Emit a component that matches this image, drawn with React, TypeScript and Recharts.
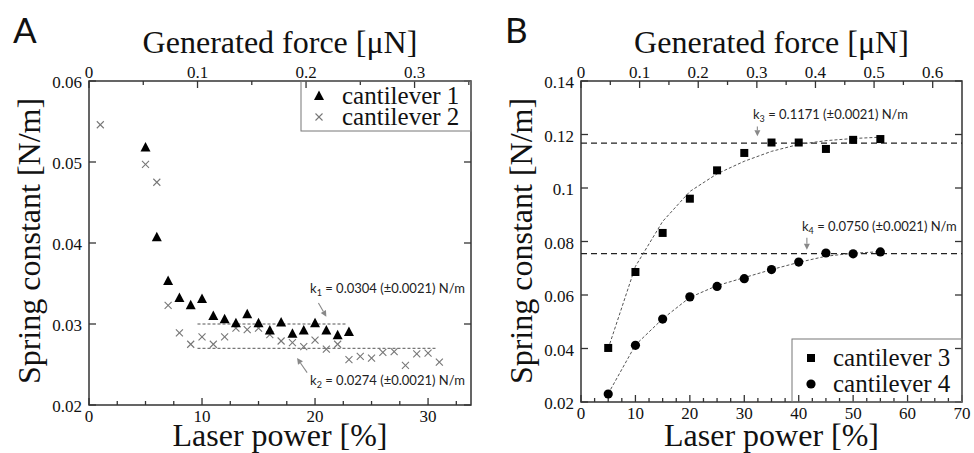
import React from 'react';
import { ComposedChart, Scatter, Line, XAxis, YAxis, ReferenceLine, ReferenceDot, ReferenceArea } from 'recharts';

const SERIF = '"Liberation Serif", "Times New Roman", serif';
const SANS = 'Lato, "Open Sans", sans-serif';

// ---------- Panel A data ----------
const laserPowerA1 = [5, 6, 7, 8, 9, 10, 11, 12, 13, 14, 15, 16, 17, 18, 19, 20, 21, 22, 23];
const springA1 = [0.0518, 0.0407, 0.0353, 0.0332, 0.0323, 0.0331, 0.031, 0.0306, 0.0301, 0.0312, 0.0301, 0.0292, 0.0302, 0.0288, 0.0292, 0.0301, 0.0292, 0.0286, 0.029];
const laserPowerA2 = [1, 5, 6, 7, 8, 9, 10, 11, 12, 13, 14, 15, 16, 17, 18, 19, 20, 21, 22, 23, 24, 25, 26, 27, 28, 29, 30, 31];
const springA2 = [0.0546, 0.0497, 0.0475, 0.0323, 0.0289, 0.0275, 0.0284, 0.0275, 0.0284, 0.0295, 0.0293, 0.0295, 0.0287, 0.0279, 0.0277, 0.0272, 0.028, 0.0269, 0.0275, 0.0256, 0.026, 0.0258, 0.0265, 0.0266, 0.0249, 0.0263, 0.0264, 0.0253];
const k1Level = 0.03;
const k1Range = [9.6, 22.8];
const k2Level = 0.027;
const k2Range = [9.6, 30.8];

// ---------- Panel B data ----------
const laserPowerB = [5, 10, 15, 20, 25, 30, 35, 40, 45, 50, 55];
const springB3 = [0.0402, 0.0686, 0.0832, 0.096, 0.1066, 0.1131, 0.117, 0.117, 0.1146, 0.118, 0.1183];
const springB4 = [0.023, 0.0412, 0.051, 0.0593, 0.0632, 0.0661, 0.0695, 0.0723, 0.0757, 0.0754, 0.0761];
const fitB3 = [0.04, 0.0707, 0.0875, 0.0987, 0.1053, 0.11, 0.1137, 0.1163, 0.1177, 0.1185, 0.119];
const fitB4 = [0.0231, 0.0413, 0.0511, 0.0591, 0.0635, 0.0665, 0.0695, 0.0722, 0.0745, 0.0756, 0.0762];
const k3Level = 0.1168;
const k4Level = 0.0755;

// ---------- Axis ranges ----------
const aLaserDomain = [0, 33.8];
const aForceDomain = [0, 0.352];
const aSpringDomain = [0.02, 0.06];
const bLaserDomain = [0, 70];
const bForceDomain = [0, 0.65];
const bSpringDomain = [0.02, 0.14];

// ---------- Ticks ----------
const aXTicks = [0, 2.5, 5, 7.5, 10, 12.5, 15, 17.5, 20, 22.5, 25, 27.5, 30, 32.5];
const aYTicks = [0.02, 0.03, 0.04, 0.05, 0.06];
const aTopTicks = [0, 0.05, 0.1, 0.15, 0.2, 0.25, 0.3, 0.35];
const bXTicks = [0, 2.5, 5, 7.5, 10, 12.5, 15, 17.5, 20, 22.5, 25, 27.5, 30, 32.5, 35, 37.5, 40, 42.5, 45, 47.5, 50, 52.5, 55, 57.5, 60, 62.5, 65, 67.5, 70];
const bYTicks = [0.02, 0.04, 0.06, 0.08, 0.1, 0.12, 0.14];
const bTopTicks = [0, 0.05, 0.1, 0.15, 0.2, 0.25, 0.3, 0.35, 0.4, 0.45, 0.5, 0.55, 0.6];

// ---------- Annotations (data coordinates) ----------
const annA = [
  { x: 19.56, y: 0.03377, sub: '1', val: '0.0304' },
  { x: 19.56, y: 0.02253, sub: '2', val: '0.0274' },
];
const arrowsA = [
  { x1: 20.3, y1: 0.0326, x2: 21.0, y2: 0.0309 },
  { x1: 19.3, y1: 0.024, x2: 18.41, y2: 0.0258 },
];
const annB = [
  { x: 31.6, y: 0.1257, sub: '3', val: '0.1171' },
  { x: 40.6, y: 0.084, sub: '4', val: '0.0750' },
];
const arrowsB = [
  { x1: 32.4, y1: 0.123, x2: 32.4, y2: 0.1193 },
  { x1: 41.5, y1: 0.0814, x2: 41.5, y2: 0.0769 },
];

const toPts = (xs: number[], ys: number[]) => xs.map((x, i) => ({ x, y: ys[i] }));
const dataA1 = toPts(laserPowerA1, springA1);
const dataA2 = toPts(laserPowerA2, springA2);
const dataB3 = toPts(laserPowerB, springB3);
const dataB4 = toPts(laserPowerB, springB4);
const dataFitB3 = toPts(laserPowerB, fitB3);
const dataFitB4 = toPts(laserPowerB, fitB4);
// invisible helpers so the secondary (top / right) axes get a series bound to them
const helperA = toPts(aForceDomain, aSpringDomain);
const helperB = toPts(bForceDomain, bSpringDomain);

const INK = '#333';
const fmt = (v: number) => String(parseFloat(v.toFixed(3)));
const isMajor = (v: number, step: number) => Math.abs(v / step - Math.round(v / step)) < 1e-6;

const tickShape = (side: string, v: number, major: boolean, showLabel: boolean) => (p: any) => {
  const x = Number(p.cx);
  const y = Number(p.cy);
  if (isNaN(x) || isNaN(y)) return <g />;
  const len = major ? 7 : 4;
  let x2 = x;
  let y2 = y;
  let lx = x;
  let ly = y;
  let anchor: 'middle' | 'end' = 'middle';
  if (side === 'bottom') {
    y2 = y - len;
    ly = y + 17;
  } else if (side === 'top') {
    y2 = y + len;
    ly = y - 3;
  } else if (side === 'left') {
    x2 = x + len;
    lx = x - 7;
    ly = y + 7;
    anchor = 'end';
  } else {
    x2 = x - len;
  }
  return (
    <g>
      <line x1={x} y1={y} x2={x2} y2={y2} stroke={INK} strokeWidth={1.3} />
      {showLabel && major ? (
        <text x={lx} y={ly} textAnchor={anchor} style={{ fontFamily: SERIF, fontSize: 17 }} fill="#111">
          {fmt(v)}
        </text>
      ) : null}
    </g>
  );
};

const Triangle = (p: any) => (
  <polygon points={`${p.cx},${p.cy - 5.5} ${p.cx - 5},${p.cy + 4} ${p.cx + 5},${p.cy + 4}`} fill="#000" />
);
const Cross = (p: any) => (
  <g stroke="#777" strokeWidth={1.1}>
    <line x1={p.cx - 3.5} y1={p.cy - 3.5} x2={p.cx + 3.5} y2={p.cy + 3.5} />
    <line x1={p.cx - 3.5} y1={p.cy + 3.5} x2={p.cx + 3.5} y2={p.cy - 3.5} />
  </g>
);
const Square = (p: any) => <rect x={p.cx - 4} y={p.cy - 4} width={8} height={8} fill="#000" />;
const Circle = (p: any) => <circle cx={p.cx} cy={p.cy} r={4.6} fill="#000" />;
const Hidden = () => <g />;

const ArrowShape = (p: any) => {
  const { x1, y1, x2, y2 } = p;
  if ([x1, y1, x2, y2].some((n) => typeof n !== 'number' || isNaN(n))) return <g />;
  const ang = Math.atan2(y2 - y1, x2 - x1);
  const L = 6;
  const W = 3;
  const bx = x2 - L * Math.cos(ang);
  const by = y2 - L * Math.sin(ang);
  const px = -Math.sin(ang) * W;
  const py = Math.cos(ang) * W;
  return (
    <g>
      <line x1={x1} y1={y1} x2={bx} y2={by} stroke="#888" strokeWidth={1.1} />
      <polygon points={`${x2},${y2} ${bx + px},${by + py} ${bx - px},${by - py}`} fill="#888" />
    </g>
  );
};

const annShape = (sub: string, val: string) => (p: any) => (
  <text x={p.cx} y={p.cy} style={{ fontFamily: SANS, fontSize: 13 }} fill="#222">
    <tspan>k</tspan>
    <tspan dy={3} style={{ fontSize: 9 }}>{sub}</tspan>
    <tspan dy={-3}>{` = ${val} (±0.0021) N/m`}</tspan>
  </text>
);

function frameAndTicks(
  pre: string,
  xDom: number[], yDom: number[],
  xTicks: number[], xStep: number,
  topTicks: number[], topStep: number,
  yTicks: number[], yStep: number,
) {
  const items: any[] = [];
  items.push(
    <ReferenceArea key={pre + 'frame'} x1={xDom[0]} x2={xDom[1]} y1={yDom[0]} y2={yDom[1]} ifOverflow="visible"
      fill="none" fillOpacity={0} stroke={INK} strokeWidth={1.5} strokeOpacity={1} />,
  );
  xTicks.forEach((v) =>
    items.push(
      <ReferenceDot key={pre + 'b' + v} x={v} y={yDom[0]} r={0} ifOverflow="visible"
        shape={tickShape('bottom', v, isMajor(v, xStep), true)} />,
    ),
  );
  topTicks.forEach((v) =>
    items.push(
      <ReferenceDot key={pre + 't' + v} xAxisId="top" yAxisId="right" x={v} y={yDom[1]} r={0} ifOverflow="visible"
        shape={tickShape('top', v, isMajor(v, topStep), true)} />,
    ),
  );
  yTicks.forEach((v) => {
    items.push(
      <ReferenceDot key={pre + 'l' + v} x={xDom[0]} y={v} r={0} ifOverflow="visible"
        shape={tickShape('left', v, isMajor(v, yStep), true)} />,
    );
    items.push(
      <ReferenceDot key={pre + 'r' + v} x={xDom[1]} y={v} r={0} ifOverflow="visible"
        shape={tickShape('right', v, isMajor(v, yStep), false)} />,
    );
  });
  return items;
}

function PanelA() {
  return (
    <ComposedChart width={487} height={453} margin={{ top: 81, right: 16, bottom: 48, left: 89 }}>
      <XAxis hide dataKey="x" type="number" domain={aLaserDomain} />
      <XAxis hide xAxisId="top" dataKey="x" type="number" orientation="top" domain={aForceDomain} />
      <YAxis hide dataKey="y" type="number" domain={aSpringDomain} />
      <YAxis hide yAxisId="right" dataKey="y" type="number" orientation="right" domain={aSpringDomain} />
      <Scatter xAxisId="top" yAxisId="right" data={helperA} dataKey="y" shape={Hidden} isAnimationActive={false} legendType="none" />
      {frameAndTicks('A', aLaserDomain, aSpringDomain, aXTicks, 10, aTopTicks, 0.1, aYTicks, 0.01)}
      <ReferenceLine segment={[{ x: k1Range[0], y: k1Level }, { x: k1Range[1], y: k1Level }]} stroke="#555" strokeWidth={1} strokeDasharray="3 2" />
      <ReferenceLine segment={[{ x: k2Range[0], y: k2Level }, { x: k2Range[1], y: k2Level }]} stroke="#555" strokeWidth={1} strokeDasharray="3 2" />
      {arrowsA.map((a, i) => (
        <ReferenceLine key={'aa' + i} segment={[{ x: a.x1, y: a.y1 }, { x: a.x2, y: a.y2 }]} shape={ArrowShape} />
      ))}
      {annA.map((a, i) => (
        <ReferenceDot key={'an' + i} x={a.x} y={a.y} r={0} shape={annShape(a.sub, a.val)} />
      ))}
      <Scatter data={dataA2} dataKey="y" shape={Cross} isAnimationActive={false} />
      <Scatter data={dataA1} dataKey="y" shape={Triangle} isAnimationActive={false} />
    </ComposedChart>
  );
}

function PanelB() {
  return (
    <ComposedChart width={487} height={453} margin={{ top: 81, right: 12, bottom: 51, left: 94 }}>
      <XAxis hide dataKey="x" type="number" domain={bLaserDomain} />
      <XAxis hide xAxisId="top" dataKey="x" type="number" orientation="top" domain={bForceDomain} />
      <YAxis hide dataKey="y" type="number" domain={bSpringDomain} />
      <YAxis hide yAxisId="right" dataKey="y" type="number" orientation="right" domain={bSpringDomain} />
      <Scatter xAxisId="top" yAxisId="right" data={helperB} dataKey="y" shape={Hidden} isAnimationActive={false} legendType="none" />
      {frameAndTicks('B', bLaserDomain, bSpringDomain, bXTicks, 10, bTopTicks, 0.1, bYTicks, 0.02)}
      <ReferenceLine y={k3Level} stroke="#222" strokeWidth={1.3} strokeDasharray="6 4" />
      <ReferenceLine y={k4Level} stroke="#222" strokeWidth={1.3} strokeDasharray="6 4" />
      {arrowsB.map((a, i) => (
        <ReferenceLine key={'ba' + i} segment={[{ x: a.x1, y: a.y1 }, { x: a.x2, y: a.y2 }]} shape={ArrowShape} />
      ))}
      {annB.map((a, i) => (
        <ReferenceDot key={'bn' + i} x={a.x} y={a.y} r={0} shape={annShape(a.sub, a.val)} />
      ))}
      <Line data={dataFitB3} dataKey="y" type="linear" stroke="#555" strokeWidth={1} strokeDasharray="3 2" dot={false} isAnimationActive={false} />
      <Line data={dataFitB4} dataKey="y" type="linear" stroke="#555" strokeWidth={1} strokeDasharray="3 2" dot={false} isAnimationActive={false} />
      <Scatter data={dataB3} dataKey="y" shape={Square} isAnimationActive={false} />
      <Scatter data={dataB4} dataKey="y" shape={Circle} isAnimationActive={false} />
    </ComposedChart>
  );
}

const titleStyle = { fontFamily: SERIF, fontSize: 32, fill: '#111' } as const;
const legendText = { fontFamily: SERIF, fontSize: 25, fill: '#111' } as const;

export default function App() {
  return (
    <div style={{ position: 'absolute', left: 0, top: 0, width: 974, height: 453 }}>
      <div style={{ position: 'absolute', left: 0, top: 0 }}>
        <PanelA />
      </div>
      <div style={{ position: 'absolute', left: 487, top: 0 }}>
        <PanelB />
      </div>
      <svg width={974} height={453} style={{ position: 'absolute', left: 0, top: 0, pointerEvents: 'none' }}>
        <text x={13} y={43} style={{ fontFamily: SANS, fontSize: 35 }} fill="#111">A</text>
        <text x={505} y={43} style={{ fontFamily: SANS, fontSize: 35 }} fill="#111">B</text>
        <text x={280} y={53} textAnchor="middle" style={titleStyle}>Generated force [μN]</text>
        <text x={280} y={446} textAnchor="middle" style={titleStyle}>Laser power [%]</text>
        <text transform="translate(40,241) rotate(-90)" textAnchor="middle" style={titleStyle}>Spring constant [N/m]</text>
        <text x={771.5} y={53} textAnchor="middle" style={titleStyle}>Generated force [μN]</text>
        <text x={771.5} y={446} textAnchor="middle" style={titleStyle}>Laser power [%]</text>
        <text transform="translate(532,241) rotate(-90)" textAnchor="middle" style={titleStyle}>Spring constant [N/m]</text>

        <rect x={301} y={81} width={170} height={50} fill="none" stroke="#777" strokeWidth={1} />
        <polygon points="319,90.5 314,100 324,100" fill="#000" />
        <g stroke="#777" strokeWidth={1.1}>
          <line x1={315.5} y1={113.5} x2={322.5} y2={120.5} />
          <line x1={315.5} y1={120.5} x2={322.5} y2={113.5} />
        </g>
        <text x={342} y={104} style={legendText}>cantilever 1</text>
        <text x={342} y={125} style={legendText}>cantilever 2</text>

        <rect x={792} y={339} width={170} height={63} fill="none" stroke="#777" strokeWidth={1} />
        <rect x={807} y={354} width={8} height={8} fill="#000" />
        <circle cx={811} cy={384} r={4.6} fill="#000" />
        <text x={833} y={366} style={legendText}>cantilever 3</text>
        <text x={833} y={392} style={legendText}>cantilever 4</text>
      </svg>
    </div>
  );
}
